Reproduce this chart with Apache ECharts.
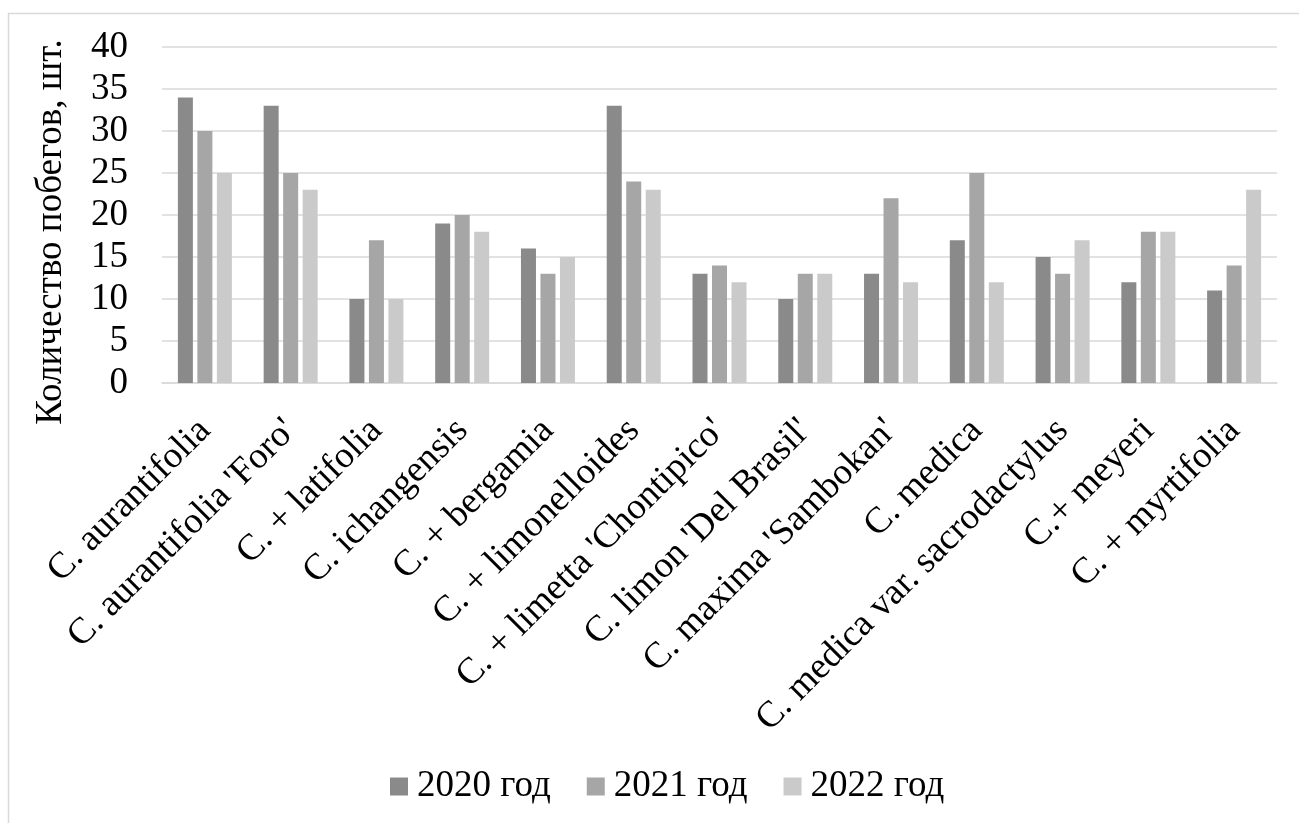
<!DOCTYPE html>
<html>
<head>
<meta charset="utf-8">
<script src="https://cdn.jsdelivr.net/npm/echarts@6/dist/echarts.min.js"></script>
<style>
html,body{margin:0;padding:0;background:#fff;}
#chart{width:1299px;height:823px;}
</style>
</head>
<body>
<div id="chart"></div>
<script>
var categories = ["C. aurantifolia", "C. aurantifolia 'Foro'", "C. + latifolia", "C. ichangensis", "C. + bergamia", "C. + limonelloides", "C. + limetta 'Chontipico'", "C. limon 'Del Brasil'", "C. maxima 'Sambokan'", "C. medica", "C. medica var. sacrodactylus", "C.+ meyeri", "C. + myrtifolia"];
var seriesNames = ["2020 год", "2021 год", "2022 год"];
var values2020 = [34, 33, 10, 19, 16, 33, 13, 10, 13, 17, 15, 12, 11];
var values2021 = [30, 25, 17, 20, 13, 24, 14, 13, 22, 25, 13, 18, 14];
var values2022 = [25, 23, 10, 18, 15, 23, 12, 13, 12, 12, 17, 18, 23];
var yTicks = [0, 5, 10, 15, 20, 25, 30, 35, 40];
var yTitle = "Количество побегов, шт.";

var FONT = "'Liberation Serif', 'Times New Roman', serif";
var colors = ['#8a8a8a', '#a6a6a6', '#cacaca'];
var chart = echarts.init(document.getElementById('chart'));
var allValues = [values2020, values2021, values2022];
chart.setOption({
  animation: false,
  textStyle: {fontFamily: FONT, color: '#000'},
  graphic: [{
    type: 'rect', silent: true,
    shape: {x: 8.5, y: 13.5, width: 1400, height: 900},
    style: {fill: 'none', stroke: '#d9d9d9', lineWidth: 1.5}
  }],
  legend: {
    bottom: 13,
    left: 385,
    itemWidth: 18, itemHeight: 18, itemGap: 36,
    icon: 'rect',
    textStyle: {fontFamily: FONT, fontSize: 37, color: '#000', padding: [0,0,0,4]},
    data: seriesNames
  },
  grid: {left: 162, right: 22, top: 47, bottom: 440, containLabel: false},
  xAxis: {
    type: 'category', data: categories,
    axisLine: {show: true, lineStyle: {color: '#d9d9d9', width: 1.5}},
    axisTick: {show: false},
    axisLabel: {rotate: 45, interval: 0, margin: 42, fontFamily: FONT, fontSize: 37, color: '#000'}
  },
  yAxis: {
    type: 'value', min: yTicks[0], max: yTicks[yTicks.length-1], interval: 5,
    name: yTitle, nameLocation: 'middle', nameGap: 92, nameRotate: 90,
    nameTextStyle: {fontFamily: FONT, fontSize: 37, color: '#000', padding: [0, 34, 0, 0]},
    axisLine: {show: false}, axisTick: {show: false},
    splitLine: {lineStyle: {color: '#d9d9d9', width: 1.5}},
    axisLabel: {margin: 34, fontFamily: FONT, fontSize: 37, color: '#000'}
  },
  series: seriesNames.map(function(n, i){
    return {
      name: n, type: 'bar', data: allValues[i],
      barWidth: 15, barGap: '30%',
      itemStyle: {color: colors[i]}
    };
  })
});
</script>
</body>
</html>
